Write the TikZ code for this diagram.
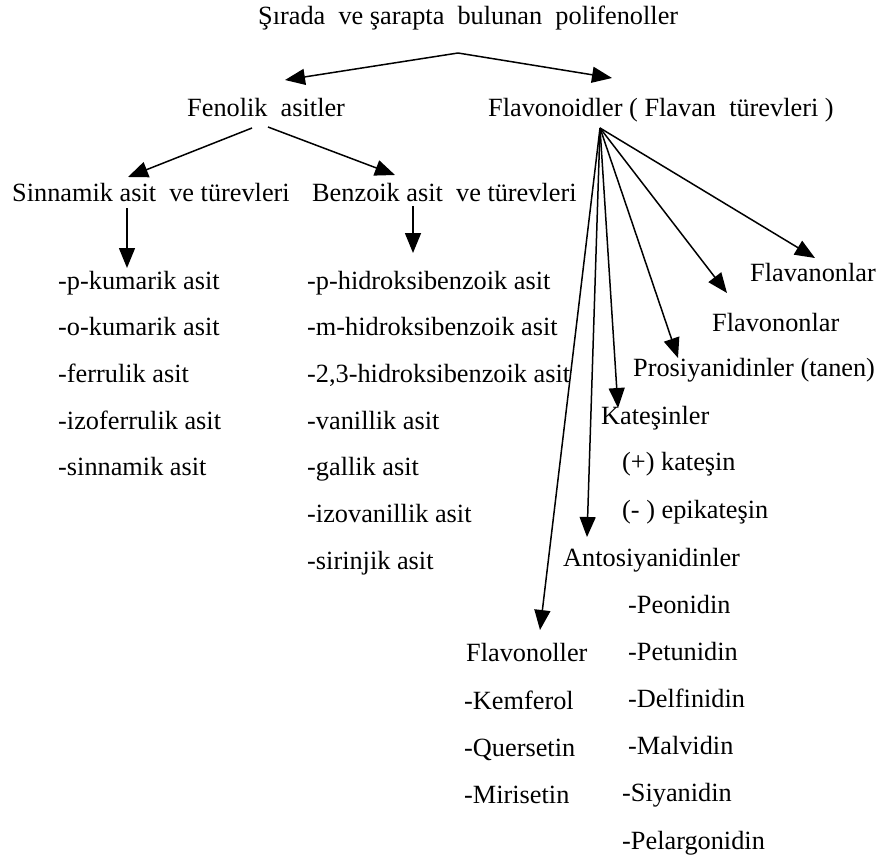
\documentclass[tikz,border=0pt]{standalone}
\usepackage{fontspec}
\setmainfont{Liberation Serif}
\usetikzlibrary{positioning}
\usetikzlibrary{arrows.meta}

\begin{document}
\begin{tikzpicture}[x=1pt,y=1pt,
		lbl/.style={anchor=west,inner sep=0pt,text height=17pt,text depth=5pt,font=\fontsize{26.3}{31}\selectfont},
		arr/.style={-{Triangle[length=20pt,width=16pt]},line width=1.5pt}]
		\useasboundingbox (0,0) rectangle (880,-862);

		\node[lbl] at (258,-18) (root) {Şırada\ \ ve şarapta\ \ bulunan\ \ polifenoller};
		\node[lbl] at (187,-110) (fen) {Fenolik\ \ asitler};
		\node[lbl] at (488,-110) (flav) {Flavonoidler ( Flavan\ \ türevleri )};

		\node[lbl] at (12,-195) (sinn) {Sinnamik asit\ \ ve türevleri};
		\node[lbl] at (312,-195) (benz) {Benzoik asit\ \ ve türevleri};

		% sinnamik asit listesi
		\foreach \t [count=\i] in {-p-kumarik asit,-o-kumarik asit,-ferrulik asit,-izoferrulik asit,-sinnamik asit}
			\node[lbl] at (58,-283-46.7*\i+46.7) (sa\i) {\t};

		% benzoik asit listesi
		\foreach \t [count=\i] in {-p-hidroksibenzoik asit,-m-hidroksibenzoik asit,{-2,3-hidroksibenzoik asit},-vanillik asit,-gallik asit,-izovanillik asit,-sirinjik asit}
			\node[lbl] at (307,-283-46.7*\i+46.7) (ba\i) {\t};

		\node[lbl] at (750,-275) (fnon) {Flavanonlar};
		\node[lbl] at (712,-325) (fvon) {Flavononlar};
		\node[lbl] at (633,-370) (pros) {Prosiyanidinler (tanen)};
		\node[lbl] at (601,-418) (kat) {Kateşinler};
		\node[lbl] at (622,-464) (kat1) {(+) kateşin};
		\node[lbl] at (622,-512) (kat2) {(- ) epikateşin};
		\node[lbl] at (563,-560) (ant) {Antosiyanidinler};

		\foreach \t/\x [count=\i] in {-Peonidin/628,-Petunidin/628,-Delfinidin/628,-Malvidin/628,-Siyanidin/622,-Pelargonidin/622}
			\node[lbl] at (\x,-607-47.2*\i+47.2) (an\i) {\t};

		\node[lbl] at (466,-655) (fol) {Flavonoller};
		\foreach \t [count=\i] in {-Kemferol,-Quersetin,-Mirisetin}
			\node[lbl] at (464,-703-47.2*\i+47.2) (fo\i) {\t};

		% ok baslangiclari
		\coordinate (rootc) at (458,-53);
		\coordinate (fenl) at (252,-128);
		\coordinate (fenr) at (268,-127);
		\coordinate (flavc) at (600,-128);

		\draw[arr] (rootc) -- ([shift={(98,30)}]fen.west);
		\draw[arr] (rootc) -- ([shift={(124,32)}]flav.west);
		\draw[arr] (fenl) -- ([shift={(116,18)}]sinn.west);
		\draw[arr] (fenr) -- ([shift={(83,20)}]benz.west);
		\draw[arr] ([shift={(115,-13)}]sinn.west) -- ([shift={(69,15)}]sa1.west);
		\draw[arr] ([shift={(101,-11)}]benz.west) -- ([shift={(106,30)}]ba1.west);

		\draw[arr] (flavc) -- ([shift={(65,17)}]fnon.west);
		\draw[arr] (flavc) -- ([shift={(15,32)}]fvon.west);
		\draw[arr] (flavc) -- ([shift={(45,12)}]pros.west);
		\draw[arr] (flavc) -- ([shift={(17,10)}]kat.west);
		\draw[arr] (flavc) -- ([shift={(24,23)}]ant.west);
		\draw[arr] (flavc) -- ([shift={(74,25)}]fol.west);
	\end{tikzpicture}
\end{document}
